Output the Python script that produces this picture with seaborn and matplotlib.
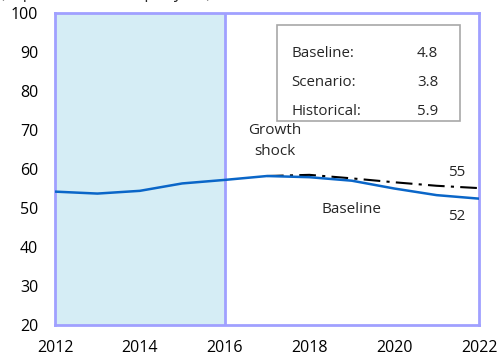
import matplotlib
matplotlib.use("Agg")
import matplotlib.pyplot as plt
import seaborn as sns
import pandas as pd

# Series values
years = [2012, 2013, 2014, 2015, 2016, 2017, 2018, 2019, 2020, 2021, 2022]
baseline = [54.2, 53.7, 54.4, 56.3, 57.2, 58.2, 57.9, 57.0, 55.0, 53.3, 52.4]
scenario_years = [2017, 2018, 2019, 2020, 2021, 2022]
scenario = [58.2, 58.5, 57.6, 56.6, 55.7, 55.1]

# Growth rates shown in the inset box
box_labels = ["Baseline:", "Scenario:", "Historical:"]
box_values = ["4.8", "3.8", "5.9"]

x_ticks = [2012, 2014, 2016, 2018, 2020, 2022]
y_ticks = [20, 30, 40, 50, 60, 70, 80, 90, 100]

sns.set_theme(style="white")
plt.rcParams["font.family"] = ["Open Sans", "DejaVu Sans"]

SPINE = "#a0a0ff"
BLUE = "#0a66c8"

fig = plt.figure(figsize=(5, 3.6), dpi=100)
ax = fig.add_axes([0.11, 0.0972, 0.848, 0.8667])

df_base = pd.DataFrame({"year": years, "value": baseline})
df_scen = pd.DataFrame({"year": scenario_years, "value": scenario})

# Historical period shading
ax.axvspan(2012, 2016, color="#d5edf5", zorder=0, lw=0)
ax.axvline(2016, color=SPINE, lw=2, zorder=1)

sns.lineplot(data=df_scen, x="year", y="value", ax=ax, color="black",
             lw=1.5, linestyle=(0, (8, 3, 1.5, 3)), zorder=3)
sns.lineplot(data=df_base, x="year", y="value", ax=ax, color=BLUE,
             lw=1.8, zorder=4)

ax.set_xlim(2012, 2022)
ax.set_ylim(20, 100)
ax.set_xticks(x_ticks)
ax.set_yticks(y_ticks)
ax.set_xlabel("")
ax.set_ylabel("")

for s in ax.spines.values():
    s.set_color(SPINE)
    s.set_linewidth(2)
ax.tick_params(axis="both", which="both", direction="in", length=5,
               width=1.5, color=SPINE, labelsize=11.5, labelcolor="black")
ax.tick_params(axis="x", pad=11)
ax.tick_params(axis="y", pad=12)

# End-point labels
ax.text(2021.48, 59.0, f"{scenario[-1]:.0f}", ha="center",
        va="center", fontsize=11)
ax.text(2021.48, 47.7, f"{baseline[-1]:.0f}", ha="center",
        va="center", fontsize=11)
ax.text(2017.19, 67.2, "Growth\nshock", ha="center", va="center",
        fontsize=11, linespacing=1.6)
ax.text(2019.0, 49.5, "Baseline", ha="center", va="center", fontsize=11)

# Inset box with growth rates
box = plt.Rectangle((2017.24, 72.3), 4.31, 24.6, transform=ax.transData,
                    fill=True, facecolor="white", edgecolor="#a8a8a8",
                    lw=1.2, zorder=5)
ax.add_patch(box)
rows_y = [89.6, 82.2, 74.8]
for lab, val, yy in zip(box_labels, box_values, rows_y):
    ax.text(2017.58, yy, lab, ha="left", va="center", fontsize=10.8, zorder=6)
    ax.text(2020.54, yy, val, ha="left", va="center", fontsize=10.8, zorder=6)

# Unit note along the top edge
fig.text(0.0, 1.005, "(in percent of GDP, per year)", ha="left",
         va="baseline", fontsize=11.5)

fig.savefig("out.png", dpi=100)
